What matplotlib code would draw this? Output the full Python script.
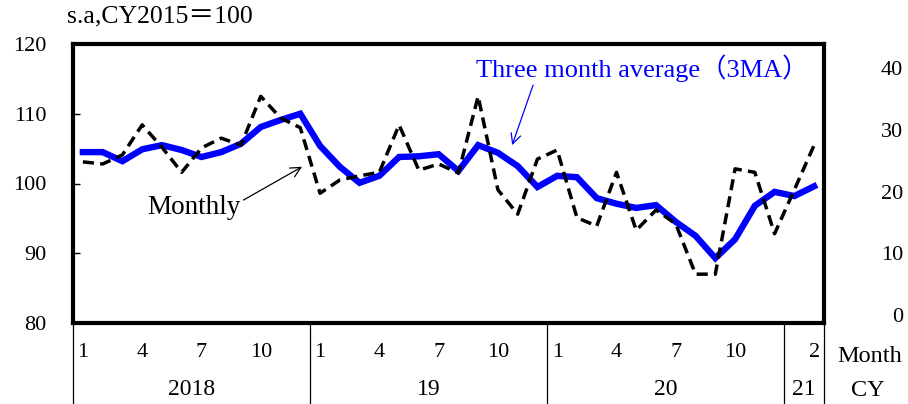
import matplotlib
matplotlib.use("Agg")
import matplotlib.pyplot as plt
import matplotlib.transforms as mtransforms
import numpy as np

plt.rcParams["font.family"] = ["Liberation Serif", "Noto Sans CJK JP"]

# Monthly index, Jan 2018 - Feb 2021 (s.a, CY2015=100)
monthly = [103.1, 102.8, 104.1, 108.4, 105.2, 101.6, 105.1, 106.5, 105.5, 112.5, 109.4, 108.0,
           98.6, 100.5, 101.1, 101.6, 108.4, 101.9, 102.8, 101.5, 112.5, 99.1, 95.6, 103.5,
           104.8, 95.1, 93.9, 101.6, 93.3, 96.2, 94.2, 87.0, 87.0, 102.1, 101.6, 92.8,
           99.1, 105.5]
ma3 = [104.5, 104.5, 103.2, 104.9, 105.5, 104.8, 103.8, 104.5, 105.7, 108.1, 109.1, 110.0,
       105.4, 102.4, 100.1, 101.1, 103.8, 103.9, 104.2, 101.8, 105.5, 104.4, 102.5, 99.5,
       101.1, 100.9, 97.9, 97.1, 96.5, 96.9, 94.5, 92.5, 89.3, 92.0, 96.8, 98.8,
       98.2, 99.6]
month_ticks = [0, 3, 6, 9, 12, 15, 18, 21, 24, 27, 30, 33, 37]
month_labels = ["1", "4", "7", "10", "1", "4", "7", "10", "1", "4", "7", "10", "2"]
year_bounds = [-0.5, 11.5, 23.5, 35.5, 37.5]
year_labels = ["2018", "19", "20", "21"]
left_ticks = [80, 90, 100, 110, 120]
right_ticks = [0, 10, 20, 30, 40]

x = np.arange(len(monthly))

fig = plt.figure(figsize=(9.08, 4.04), dpi=100)
ax = fig.add_axes([73 / 908, 81 / 404, 751 / 908, 279 / 404])

ax.plot(x, ma3, color="#0000FF", lw=4.6, solid_joinstyle="miter", zorder=3)
ax.plot(x, monthly, color="black", lw=2.5, dashes=(3.2, 1.8), zorder=4)

ax.set_xlim(-0.5, 37.5)
ax.set_ylim(80, 120)
ax.set_yticks(left_ticks)
ax.set_xticks([])
ax.tick_params(axis="y", direction="in", length=5, width=1, pad=19, labelsize=16)
for sp in ax.spines.values():
    sp.set_linewidth(3)

# right axis: labels only, not aligned with the left scale
ax2 = ax.twinx()
ax2.set_ylim(-1.3, 43.9)
ax2.set_yticks(right_ticks)
ax2.tick_params(axis="y", length=0, pad=57, labelsize=16)
for lab in ax2.get_yticklabels():
    lab.set_horizontalalignment("right")
for sp in ax2.spines.values():
    sp.set_visible(False)

# category table below the axes
trans = mtransforms.blended_transform_factory(ax.transData, ax.transAxes)
for b in year_bounds:
    ax.plot([b, b], [0, -0.3], transform=trans, color="black", lw=0.9, clip_on=False)
for t, lab in zip(month_ticks, month_labels):
    ax.text(t, -0.105, lab, transform=trans, ha="center", va="center", fontsize=16)
for i, lab in enumerate(year_labels):
    mid = (year_bounds[i] + year_bounds[i + 1]) / 2
    ax.text(mid, -0.24, lab, transform=trans, ha="center", va="center", fontsize=17)
fig.text(870 / 908, 1 - 357 / 404, "Month", ha="center", va="center", fontsize=17.5)
fig.text(868 / 908, 1 - 390 / 404, "CY", ha="center", va="center", fontsize=17.5)

fig.text(67 / 908, 1 - 16 / 404, "s.a,CY2015＝100", ha="left", va="center", fontsize=18.5)

# annotations
ax.annotate("Monthly", xy=(11.09, 102.4), xytext=(5.62, 96.5), fontsize=19.5,
            ha="center", va="center",
            arrowprops=dict(arrowstyle="->", color="black", lw=0.9,
                            shrinkA=0, shrinkB=0, mutation_scale=18,
                            relpos=(1.0, 0.75)))
ax.text(28.3, 116.6, "Three month average（3MA）", color="#0000FF", fontsize=19,
        ha="center", va="center")
ax.annotate("", xy=(21.72, 105.5), xytext=(22.78, 114.1),
            arrowprops=dict(arrowstyle="->", color="#0000FF", lw=0.9,
                            shrinkA=0, shrinkB=0, mutation_scale=18))

fig.savefig("out.png", dpi=100)
